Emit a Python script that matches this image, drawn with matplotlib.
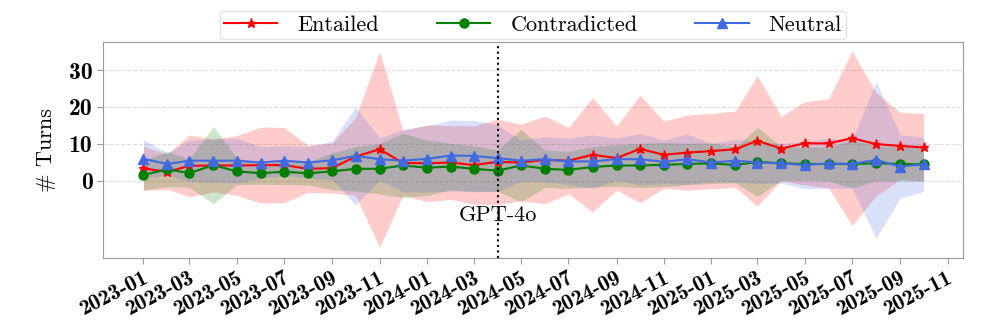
import pandas as pd
import matplotlib
matplotlib.use('Agg')
from matplotlib import pyplot as plt
import matplotlib.dates as mdates

# monthly averages of # turns (mean and std) per label
months = pd.date_range('2023-01-01', periods=34, freq='MS')

entailed_mean = [3.3, 2.4, 4.0, 4.1, 4.1, 4.2, 4.2, 3.2, 3.4, 6.5,
                 8.5, 4.8, 4.7, 4.9, 4.2, 5.1, 4.9, 5.6, 5.4, 7.0,
                 6.1, 8.6, 7.0, 7.6, 8.0, 8.5, 10.8, 8.7, 10.1, 10.1,
                 11.5, 9.9, 9.4, 9.0]
entailed_std = [6.0, 4.8, 8.4, 7.2, 8.1, 10.3, 10.2, 6.4, 6.8, 10.5,
                26.6, 8.8, 10.4, 10.0, 10.6, 11.6, 10.4, 11.9, 9.0, 15.5,
                8.7, 14.6, 9.1, 10.2, 10.2, 10.4, 17.7, 8.7, 11.3, 12.1,
                23.7, 14.0, 9.1, 9.2]

contradicted_mean = [1.5, 3.1, 2.0, 4.2, 2.5, 2.0, 2.4, 2.0, 2.5, 3.2,
                     3.2, 4.1, 3.5, 3.8, 3.2, 2.7, 4.1, 3.2, 2.9, 3.7,
                     4.1, 4.1, 4.3, 4.5, 4.7, 4.2, 5.1, 4.7, 4.5, 4.5,
                     4.5, 4.7, 4.5, 4.4]
contradicted_std = [4.0, 4.8, 3.8, 10.5, 3.6, 3.0, 3.5, 3.2, 5.0, 6.0,
                    6.8, 8.7, 7.5, 6.3, 6.2, 5.6, 9.8, 5.1, 5.0, 5.5,
                    5.6, 6.0, 6.0, 5.6, 5.5, 4.8, 9.4, 4.6, 4.5, 4.6,
                    6.5, 4.8, 4.6, 4.5]

neutral_mean = [5.9, 4.5, 5.4, 5.4, 5.4, 4.9, 5.4, 4.9, 5.5, 6.7,
                5.8, 5.4, 5.9, 6.8, 6.7, 6.1, 5.4, 5.8, 5.2, 5.2,
                5.8, 5.8, 5.1, 5.8, 4.9, 5.4, 4.9, 4.7, 4.2, 4.7,
                4.5, 5.6, 3.8, 4.4]
neutral_std = [5.2, 3.0, 5.6, 5.8, 6.1, 4.3, 4.0, 4.3, 5.2, 13.3,
               5.7, 8.5, 9.0, 9.6, 9.6, 9.0, 5.6, 6.1, 6.3, 7.2,
               5.7, 7.0, 5.9, 6.8, 5.2, 5.8, 5.7, 5.4, 6.4, 6.8,
               6.5, 21.2, 8.6, 7.3]

yticks = [0, 10, 20, 30]
event_date = pd.Timestamp('2024-04-01')
event_label = 'GPT-4o'

series = [
    ('Entailed', entailed_mean, entailed_std, 'red', '*'),
    ('Contradicted', contradicted_mean, contradicted_std, 'green', 'o'),
    ('Neutral', neutral_mean, neutral_std, 'royalblue', '^'),
]

fig, ax = plt.subplots(figsize=(9.96, 3.27), dpi=100)
fig.subplots_adjust(left=0.1034, right=0.967, top=0.8716, bottom=0.211)

for name, mean, std, color, marker in series:
    lo = [m - s for m, s in zip(mean, std)]
    hi = [m + s for m, s in zip(mean, std)]
    ax.fill_between(months, lo, hi, color=color, alpha=0.2, linewidth=0)

for name, mean, std, color, marker in series:
    ax.plot(months, mean, color=color, marker=marker, markersize=6.5,
            linewidth=1.5, label=name)

ax.axvline(event_date, color='black', linestyle=':', linewidth=1.5)
ax.text(event_date, -9.3, event_label, ha='center', va='center',
        fontsize=16, family='cmr10')

ax.set_ylim(-21, 37.6)
ax.set_xlim(pd.Timestamp('2022-11-10'), pd.Timestamp('2025-11-21'))
ax.set_yticks(yticks, labels=[str(t) for t in yticks])
ax.xaxis.set_major_locator(mdates.MonthLocator(bymonth=[1, 3, 5, 7, 9, 11]))
ax.xaxis.set_major_formatter(mdates.DateFormatter('%Y-%m'))

for lab in ax.get_xticklabels():
    lab.set_family('cmb10')
    lab.set_fontsize(16)
    lab.set_rotation(27)
    lab.set_ha('right')
    lab.set_rotation_mode('anchor')
for lab in ax.get_yticklabels():
    lab.set_family('cmb10')
    lab.set_fontsize(17)

ax.set_ylabel('# Turns', family='cmr10', fontsize=16, labelpad=9)
ax.grid(axis='y', linestyle='--', color='#dddddd', linewidth=0.8)
ax.set_axisbelow(True)
for sp in ax.spines.values():
    sp.set_color('#999999')
ax.tick_params(colors='#999999', labelcolor='black', length=4)

ax.legend(loc='center', bbox_to_anchor=(0.5, 1.078), ncol=3,
          prop={'family': 'cmr10', 'size': 16}, handlelength=2.4,
          handletextpad=0.9, columnspacing=2.6, borderpad=0.2,
          frameon=True, edgecolor='#dddddd')

plt.savefig('out.png', dpi=100)
